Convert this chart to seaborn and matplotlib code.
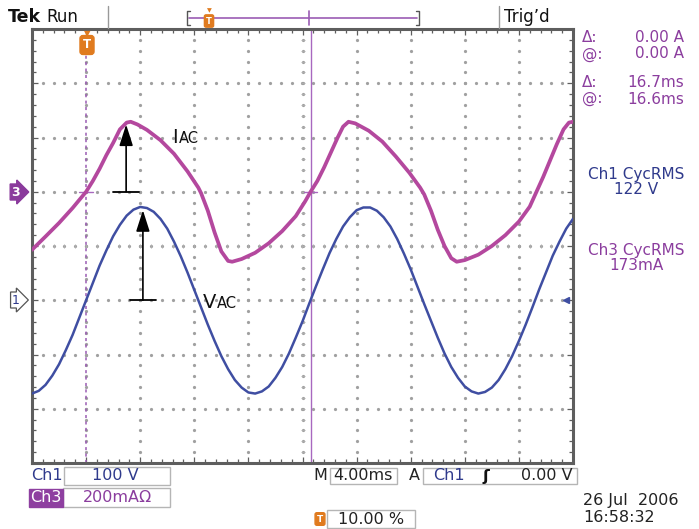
import numpy as np
import pandas as pd
import matplotlib
matplotlib.use("Agg")
import matplotlib.pyplot as plt
import matplotlib.patches as mpatches
import seaborn as sns

# ---------------- data (read from the screen) ----------------
# Ch1 (line voltage, 100 V/div) sampled every 0.5 ms from -4 ms to 36 ms
ch1_time_ms = np.arange(-4.0, 36.01, 0.5)
ch1_volts = [-172, -167, -156, -139, -118, -92, -64, -32, 0,
             32, 64, 92, 118, 139, 156, 167, 172,
             170, 163, 150, 132, 108, 81, 51, 19,
             -13, -45, -75, -103, -127, -147, -161, -170,
             -172, -168, -159, -143, -123, -98, -69, -39,
             -6, 26, 57, 87, 113, 136, 153, 166,
             171, 171, 165, 153, 136, 113, 86, 57,
             25, -7, -38, -69, -98, -123, -143, -159,
             -168, -172, -169, -161, -147, -127, -103, -75,
             -45, -13, 20, 51, 82, 108, 132, 150]

# Ch3 (line current, 200 mA/div)
ch3_time_ms = [-4.0, -3.0, -2.0, -1.0, -0.5, 0.0, 0.5, 1.0, 1.5, 2.0, 2.5, 3.0,
               3.3, 3.8, 4.5, 5.5, 6.5, 7.5, 8.3, 8.5, 9.0, 9.5, 10.0, 10.5,
               10.8, 11.5, 12.5, 13.5, 14.5, 15.5, 16.2, 16.6, 17.1, 17.6,
               18.1, 18.6, 19.0, 19.4, 19.9, 20.9, 21.9, 22.9, 23.9, 24.7,
               25.0, 25.5, 26.0, 26.5, 27.0, 27.4, 28.0, 29.0, 30.0, 31.0,
               32.0, 32.8, 33.3, 33.8, 34.3, 34.8, 35.3, 35.7, 36.0]
ch3_mA = [-214, -165, -115, -60, -30, 0, 40, 85, 135, 180, 230, 255,
          258, 248, 228, 190, 140, 75, 15, -5, -70, -150, -220, -255,
          -258, -248, -225, -190, -145, -90, -35, 0, 40, 90,
          145, 200, 240, 258, 252, 225, 185, 130, 70, 15,
          -10, -70, -140, -200, -245, -258, -252, -232, -200, -160,
          -110, -55, 0, 55, 115, 175, 230, 255, 258]

ch1_scale_v = 100.0     # V / div
ch3_scale_ma = 200.0    # mA / div
ch1_offset_div = -1.0
ch3_offset_div = 1.0
cursor_time_ms = 16.6

# ---------------- figure ----------------
W, H = 699, 529
sns.set_style("white")
plt.rcParams['font.family'] = ['DejaVu Sans']
plt.rcParams['mathtext.fontset'] = 'dejavusans'
fig = plt.figure(figsize=(W / 100, H / 100), dpi=100)
fig.patch.set_facecolor("white")

def P(x, y):
    return (x / W, 1 - y / H)

L, T, R, B = 32, 29, 573, 463
ax = fig.add_axes([L / W, 1 - B / H, (R - L) / W, (B - T) / H])

MAG = "#b4489e"
BLU = "#3f4ea2"
PUR = "#8b3d9e"
DBLU = "#2f3a8c"
FRAME = "#5e5e5e"
ORANGE = "#e07b1f"

df1 = pd.DataFrame({"t": ch1_time_ms, "v": ch1_volts})
df1["div"] = df1["v"] / ch1_scale_v + ch1_offset_div
df3 = pd.DataFrame({"t": ch3_time_ms, "i": ch3_mA})
df3["div"] = df3["i"] / ch3_scale_ma + ch3_offset_div

ax.set_xlim(-4, 36)
ax.set_ylim(-4, 4)

# graticule dots
gx = np.arange(-4, 36.01, 4.0)
gy = np.arange(-4, 4.01, 1.0)
for x in gx[1:-1]:
    ys = np.arange(-4, 4.001, 0.2)[1:-1]
    ax.plot(np.full_like(ys, x), ys, ls="none", marker="o", ms=1.3,
            color="#a0a0a0", zorder=1)
for y in gy[1:-1]:
    xs = np.arange(-4, 36.001, 0.8)[1:-1]
    ax.plot(xs, np.full_like(xs, y), ls="none", marker="o", ms=1.3,
            color="#a0a0a0", zorder=1)
# center cross small ticks
ys = np.arange(-4, 4.001, 0.2)[1:-1]
ax.plot(np.full_like(ys, 16.0), ys, ls="none", marker="_", ms=3,
        mew=0.6, color="#b0b0b0", zorder=1)
xs = np.arange(-4, 36.001, 0.8)[1:-1]
ax.plot(xs, np.zeros_like(xs), ls="none", marker="|", ms=3,
        mew=0.6, color="#b0b0b0", zorder=1)

# trigger position (dashed) and time cursor (solid)
ax.axvline(0.0, color="#9b5cb4", lw=1.1, ls=(0, (2, 2.2)), zorder=2)
ax.axvline(cursor_time_ms, color="#a868bf", lw=1.0, zorder=2)
# horizontal cursor marks at Ch3 reference
for xc in (0.0, cursor_time_ms):
    ax.plot([xc - 0.5, xc + 0.5], [ch3_offset_div, ch3_offset_div],
            color="#a868bf", lw=1.0, zorder=2)

# traces
sns.lineplot(data=df3, x="t", y="div", ax=ax, color=MAG, lw=2.7,
             sort=False, estimator=None, zorder=4)
sns.lineplot(data=df1, x="t", y="div", ax=ax, color=BLU, lw=1.8,
             sort=False, estimator=None, zorder=5)

# annotation arrows
def amp_arrow(tx, base, tip):
    ax.annotate("", xy=(tx, tip), xytext=(tx, base),
                arrowprops=dict(arrowstyle="-|>,head_length=1.0,head_width=0.32",
                                mutation_scale=13, color="black", lw=1.2,
                                shrinkA=0, shrinkB=0), zorder=6)
    ax.plot([tx - 0.95, tx + 0.95], [base, base], color="black", lw=1.3, zorder=6)

i_peak_div = max(ch3_mA) / ch3_scale_ma + ch3_offset_div
v_peak_div = max(ch1_volts) / ch1_scale_v + ch1_offset_div
amp_arrow(2.96, ch3_offset_div, i_peak_div - 0.05)
amp_arrow(4.2, ch1_offset_div, v_peak_div - 0.06)

fig.text(*P(172, 143), "I", fontsize=14, va="baseline", ha="left", color="#111")
fig.text(*P(179, 143), "AC", fontsize=10.5, va="baseline", ha="left", color="#111")
fig.text(*P(203, 308), "V", fontsize=14, va="baseline", ha="left", color="#111")
fig.text(*P(217, 308), "AC", fontsize=10.5, va="baseline", ha="left", color="#111")

# trigger-level arrow on the right
ax.plot([35.5], [ch1_offset_div], marker="<", ms=5, color=BLU, zorder=6,
        clip_on=False)

# frame and ticks
for s in ax.spines.values():
    s.set_color(FRAME)
    s.set_linewidth(2.2)
ax.set_xticks(gx)
ax.set_yticks(gy)
ax.set_xticks(np.arange(-4, 36.01, 0.8), minor=True)
ax.set_yticks(np.arange(-4, 4.01, 0.2), minor=True)
ax.tick_params(which="both", direction="in", top=True, right=True,
               bottom=True, left=True, labelbottom=False, labelleft=False,
               color=FRAME, width=0.9)
ax.tick_params(which="major", length=4)
ax.tick_params(which="minor", length=3)
ax.set_xlabel("")
ax.set_ylabel("")
ax.grid(False)

# trigger "T" marker on the graticule
fig.text(*P(87, 45), "T", fontsize=8.5, fontweight="bold", color="white",
         ha="center", va="center",
         bbox=dict(boxstyle="round,pad=0.25", fc=ORANGE, ec=ORANGE))
fig.text(*P(87, 34), "\u25BC", fontsize=6, color=ORANGE, ha="center", va="center")

# ---------------- header ----------------
fig.text(*P(8, 17), "Tek", fontsize=12.5, fontweight="bold", ha="left",
         va="center", color="#111")
fig.text(*P(46, 17), "Run", fontsize=12, ha="left", va="center", color="#111")
fig.add_artist(plt.Line2D([108 / W, 108 / W], [1 - 6 / H, 1 - 28 / H],
                          color="#999", lw=1.0))
fig.add_artist(plt.Line2D([499 / W, 499 / W], [1 - 6 / H, 1 - 28 / H],
                          color="#999", lw=1.0))
fig.text(*P(504, 17), "Trig\u2019d", fontsize=12, ha="left", va="center",
         color="#111")
# record bracket
fig.add_artist(plt.Line2D([189 / W, 417 / W], [1 - 18 / H, 1 - 18 / H],
                          color="#9b5cb4", lw=1.2))
for bx, d in ((187, 1), (419, -1)):
    fig.add_artist(plt.Line2D([(bx + 3 * d) / W, bx / W, bx / W, (bx + 3 * d) / W],
                              [1 - 11 / H, 1 - 11 / H, 1 - 25 / H, 1 - 25 / H],
                              color="#555", lw=1.0))
fig.add_artist(plt.Line2D([309 / W, 309 / W], [1 - 11 / H, 1 - 25 / H],
                          color="#9b5cb4", lw=1.2))
fig.text(*P(209, 21), "T", fontsize=6, fontweight="bold", color="white",
         ha="center", va="center",
         bbox=dict(boxstyle="round,pad=0.2", fc=ORANGE, ec=ORANGE))
fig.text(*P(209, 11), "\u25BC", fontsize=4.5, color=ORANGE, ha="center", va="center")

# ---------------- channel markers ----------------
fig.text(*P(16, 192), "3", fontsize=9, fontweight="bold", color="white",
         ha="center", va="center",
         bbox=dict(boxstyle="rarrow,pad=0.12", fc="#8a3a9c", ec="#8a3a9c"))
fig.text(*P(16, 300), "1", fontsize=9, color=DBLU, ha="center", va="center",
         bbox=dict(boxstyle="rarrow,pad=0.12", fc="white", ec="#555", lw=0.9))

# ---------------- right readouts ----------------
rfs = 11
for y, lab, val in ((38, "\u0394:", "0.00 A"), (54, "@:", "0.00 A"),
                    (83, "\u0394:", "16.7ms"), (99, "@:", "16.6ms")):
    fig.text(*P(582, y), lab, fontsize=rfs, color=PUR, ha="left", va="center")
    fig.text(*P(684, y), val, fontsize=rfs, color=PUR, ha="right", va="center")
fig.text(*P(636, 175), "Ch1 CycRMS", fontsize=rfs, color=DBLU, ha="center", va="center")
fig.text(*P(636, 190), "122 V", fontsize=rfs, color=DBLU, ha="center", va="center")
fig.text(*P(636, 250), "Ch3 CycRMS", fontsize=rfs, color=PUR, ha="center", va="center")
fig.text(*P(636, 265), "173mA", fontsize=rfs, color=PUR, ha="center", va="center")

# ---------------- bottom readouts ----------------
def box(x0, y0, x1, y1, fc="white", ec="#b5b5b5"):
    fig.add_artist(mpatches.Rectangle((x0 / W, 1 - y1 / H), (x1 - x0) / W,
                                      (y1 - y0) / H, fc=fc, ec=ec, lw=1.0,
                                      transform=fig.transFigure))

bfs = 11.5
box(64, 467, 170, 485)
box(63, 488, 170, 507)
box(29, 489, 63, 507, fc="#8e3fa0", ec="#8e3fa0")
fig.text(*P(31, 476), "Ch1", fontsize=bfs, color=DBLU, ha="left", va="center")
fig.text(*P(115, 476), "100 V", fontsize=bfs, color=DBLU, ha="center", va="center")
fig.text(*P(46, 498), "Ch3", fontsize=bfs, color="white", ha="center", va="center")
fig.text(*P(117, 498), "200mA\u03A9", fontsize=bfs, color=PUR, ha="center", va="center")

box(330, 468, 397, 484)
box(423, 468, 577, 484)
fig.text(*P(313, 476), "M", fontsize=bfs, color="#222", ha="left", va="center")
fig.text(*P(363, 476), "4.00ms", fontsize=bfs, color="#222", ha="center", va="center")
fig.text(*P(414, 476), "A", fontsize=bfs, color="#222", ha="center", va="center")
fig.text(*P(449, 476), "Ch1", fontsize=bfs, color=DBLU, ha="center", va="center")
fig.text(*P(486, 476), "\u0283", fontsize=bfs, color="#111", ha="center",
         va="center", fontweight="bold")
fig.text(*P(573, 476), "0.00 V", fontsize=bfs, color="#222", ha="right", va="center")

box(327, 510, 415, 528)
fig.text(*P(320, 519), "T", fontsize=6.5, fontweight="bold", color="white",
         ha="center", va="center",
         bbox=dict(boxstyle="round,pad=0.2", fc=ORANGE, ec=ORANGE))
fig.text(*P(371, 519), "10.00 %", fontsize=bfs, color="#222", ha="center", va="center")

fig.text(*P(583, 501), "26 Jul  2006", fontsize=11.5, color="#222", ha="left", va="center")
fig.text(*P(583, 518), "16:58:32", fontsize=11.5, color="#222", ha="left", va="center")

fig.savefig("out.png", dpi=100, facecolor="white")
